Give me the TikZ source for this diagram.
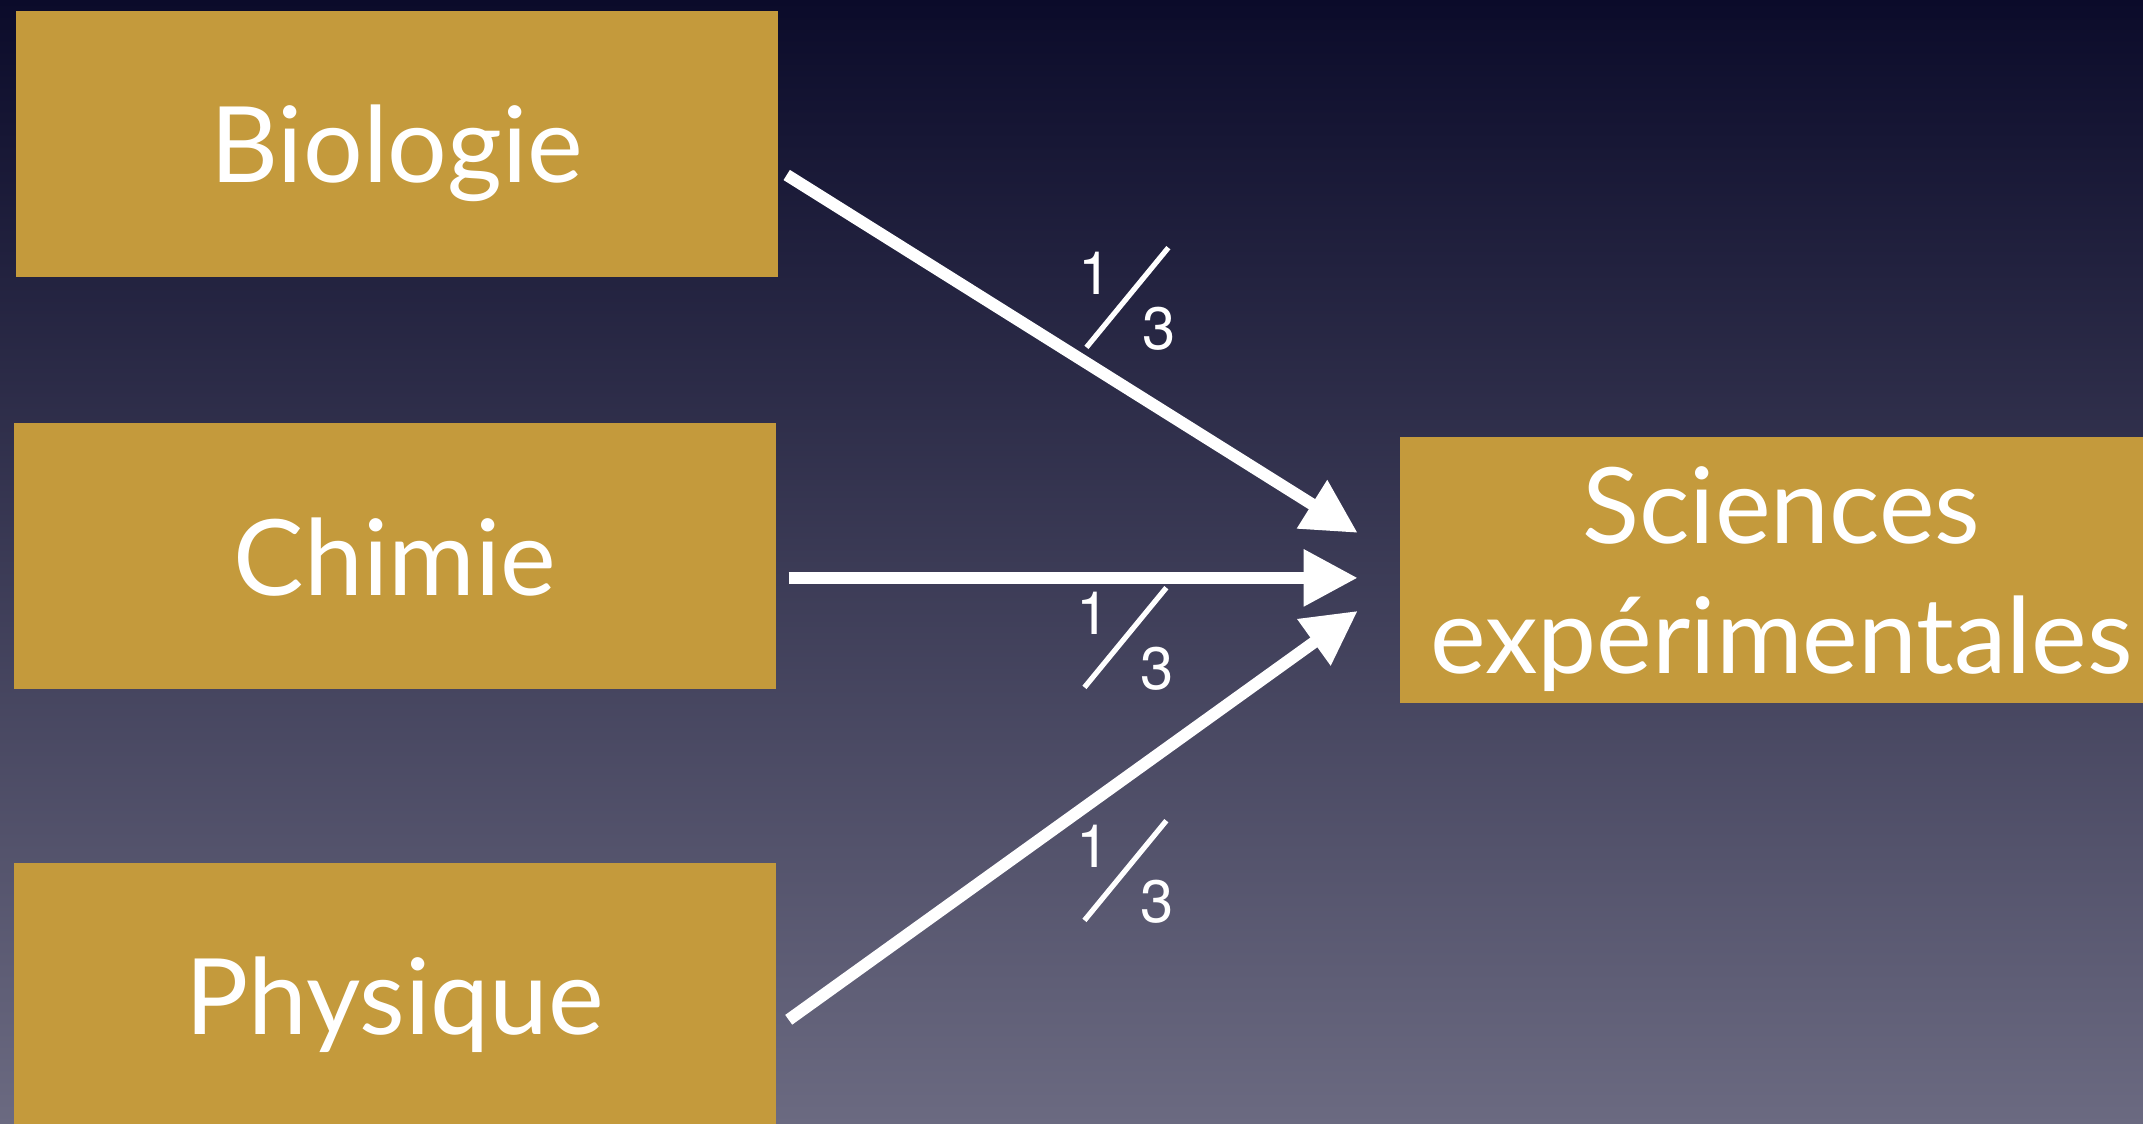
\documentclass[tikz,border=0pt]{standalone}
\usepackage{fontspec}
\setmainfont{Lato}
\newfontfamily\fracfont{TeX Gyre Heros}
\usetikzlibrary{arrows.meta, positioning}
\definecolor{slidetop}{HTML}{0B0B2A}
\definecolor{slidebottom}{HTML}{6B6A81}
\definecolor{ochre}{HTML}{C49A3C}
\newcommand{\onethird}{\makebox[0pt][l]{\raisebox{0.55cm}{1}}\hspace{0.06cm}\rotatebox{50.6}{\rule{1.29cm}{1.5pt}}\hspace{-0.28cm}3}
\tikzset{
	subject/.style = {rectangle, minimum width=7.62cm, minimum height=2.66cm, fill=ochre, text=white, align=center, inner sep=0pt, text depth=0pt, font=\fontsize{30}{37}\selectfont},
	arrow/.style   = {-{Triangle[length=0.54cm, width=0.54cm]}, line width=0.12cm, draw=white, shorten >=0pt},
	weight/.style  = {inner sep=0pt, text=white, font=\fracfont\fontsize{17}{17}\selectfont}
}
\begin{document}
\begin{tikzpicture}
	\useasboundingbox (0,0) rectangle (21.43,11.24);
	\clip (0,0) rectangle (21.43,11.24);
	\shade[top color=slidetop, bottom color=slidebottom] (0,0) rectangle (21.43,11.24);

	\node (bio)  [subject] at (3.97,9.80) {Biologie};
	\node (chem) [subject, below=1.45cm of bio, xshift=-0.02cm] {Chimie};
	\node (phys) [subject, below=1.72cm of chem] {Physique};
	\node (sci)  [subject, right=6.23cm of chem, yshift=-0.14cm] {Sciences\\expérimentales};

	\draw [arrow] ([shift={(0.08,-0.31)}]bio.east)  -- ([shift={(-0.42,0.375)}]sci.west);
	\draw [arrow] ([shift={(0.12,-0.215)}]chem.east) -- ([shift={(-0.42,-0.075)}]sci.west);
	\draw [arrow] ([shift={(0.12,-0.24)}]phys.east)  -- ([shift={(-0.42,-0.405)}]sci.west);

	\node (w1) [weight] at (11.27,8.26) {\onethird};
	\node (w2) [weight] at (11.25,4.86) {\onethird};
	\node (w3) [weight] at (11.25,2.53) {\onethird};
\end{tikzpicture}
\end{document}
